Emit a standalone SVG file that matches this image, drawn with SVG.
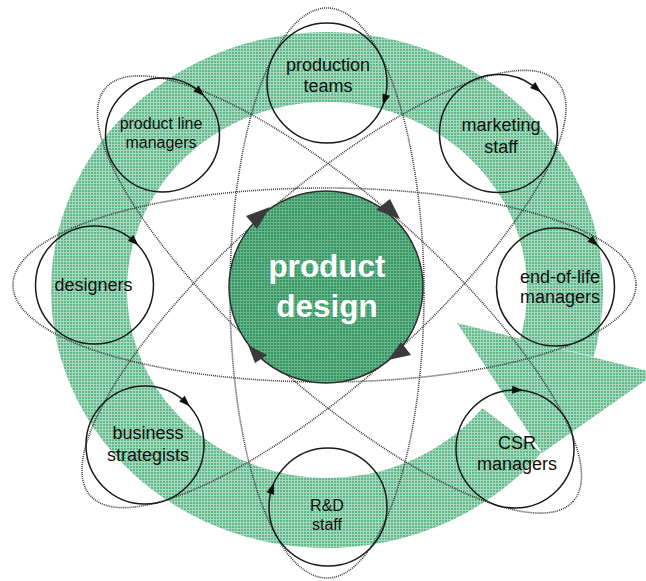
<svg xmlns="http://www.w3.org/2000/svg" width="646" height="581" viewBox="0 0 646 581">
<defs>
<pattern id="pr" width="3" height="3" patternUnits="userSpaceOnUse"><rect width="3" height="3" fill="#5fb98a"/><path d="M0 0.5H3M0.5 0V3" stroke="#a8d9bf" stroke-width="1"/></pattern>
<pattern id="pc" width="3" height="3" patternUnits="userSpaceOnUse"><rect width="3" height="3" fill="#379462"/><path d="M0 0.5H3M0.5 0V3" stroke="#64b68a" stroke-width="1"/></pattern>
<polygon id="ah" points="-4,-6 4,-6 0,5" fill="#111"/>
</defs>
<style>
.dot{fill:none;stroke:#3c3c3c;stroke-width:1.6;stroke-dasharray:1 1}
.node{fill:none;stroke:#1a1a1a;stroke-width:1.5}
.lbl{font-family:"Liberation Sans",Arial,sans-serif;font-size:18px;fill:#111;text-anchor:middle}
.sm{font-size:16px}
.big{font-family:"Liberation Sans",Arial,sans-serif;font-size:31.5px;font-weight:bold;fill:#fff;text-anchor:middle}
.cah{fill:#3a3a3a}
</style>
<rect width="646" height="581" fill="#fff"/>
<g id="ring">
<path d="M541.5 452.4 A276 258 0 1 1 593.6 356.8 L520.2 338.7 A200 188 0 1 0 482.4 408.3 Z" fill="url(#pr)"/>
<polygon points="457,323 656,373 542,453" fill="url(#pr)"/>
</g>
<g id="connectors">
<ellipse class="dot" cx="327" cy="293" rx="97" ry="285"/>
<ellipse class="dot" cx="324.5" cy="285" rx="311.5" ry="97"/>
<ellipse class="dot" cx="339.5" cy="294.5" rx="312" ry="95" transform="rotate(41.5 339.5 294.5)"/>
<ellipse class="dot" cx="324" cy="289" rx="312" ry="95" transform="rotate(-41.5 324 289)"/>
</g>
<g id="product-design">
<ellipse cx="326" cy="287" rx="97" ry="96" fill="url(#pc)" stroke="#2e2e2e" stroke-width="1.5"/>
<polygon class="cah" points="270,207 246,216 257,229"/>
<polygon class="cah" points="400,219 376,210 390,199"/>
<polygon class="cah" points="388,360 401,342 411,355"/>
<polygon class="cah" points="248,345 267,355 255,363"/>
<text class="big" x="327" y="277">product</text>
<text class="big" x="327" y="316.5">design</text>
</g>
<g id="production-teams">
<circle class="node" cx="327" cy="83" r="60"/>
<use href="#ah" transform="translate(327 83) rotate(16.9) translate(60 0)"/>
<text class="lbl" x="328" y="71">production</text>
<text class="lbl" x="328" y="92">teams</text>
</g>
<g id="product-line-managers">
<circle class="node" cx="162.5" cy="135" r="57"/>
<use href="#ah" transform="translate(162.5 135) rotate(-48.2) translate(57 0)"/>
<text class="lbl sm" x="161" y="128.5">product line</text>
<text class="lbl sm" x="161" y="147.5">managers</text>
</g>
<g id="marketing-staff">
<circle class="node" cx="498.5" cy="133.5" r="59"/>
<use href="#ah" transform="translate(498.5 133.5) rotate(-49) translate(59 0)"/>
<text class="lbl" x="501" y="131">marketing</text>
<text class="lbl" x="501" y="152.5">staff</text>
</g>
<g id="designers">
<circle class="node" cx="94.5" cy="285" r="59"/>
<use href="#ah" transform="translate(94.5 285) rotate(-46.7) translate(59 0)"/>
<text class="lbl" x="93.5" y="291">designers</text>
</g>
<g id="end-of-life-managers">
<circle class="node" cx="555.5" cy="287" r="59"/>
<use href="#ah" transform="translate(555.5 287) rotate(-48.7) translate(59 0)"/>
<text class="lbl" x="560" y="282.5">end-of-life</text>
<text class="lbl" x="560" y="302.5">managers</text>
</g>
<g id="business-strategists">
<circle class="node" cx="145" cy="445" r="59"/>
<use href="#ah" transform="translate(145 445) rotate(-45.7) translate(59 0)"/>
<text class="lbl" x="148" y="439">business</text>
<text class="lbl" x="148" y="460.5">strategists</text>
</g>
<g id="rd-staff">
<circle class="node" cx="328" cy="507" r="59"/>
<use href="#ah" transform="translate(328 507) rotate(199) translate(59 0)"/>
<text class="lbl sm" x="327" y="511">R&amp;D</text>
<text class="lbl sm" x="327" y="530">staff</text>
</g>
<g id="csr-managers">
<circle class="node" cx="515" cy="449" r="59"/>
<use href="#ah" transform="translate(515 449) rotate(-87) translate(59 0)"/>
<text class="lbl" x="517" y="449">CSR</text>
<text class="lbl" x="517" y="470">managers</text>
</g>
</svg>
